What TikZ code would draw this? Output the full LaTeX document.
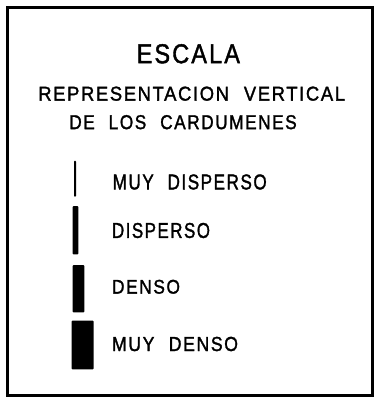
\documentclass[tikz,border=0pt]{standalone}
\usepackage{fontspec}
\usepackage{graphicx}
\setmainfont{Liberation Sans}[FakeBold=1.6, LetterSpace=9, WordSpace=2.2]
\newcommand{\fitbox}[3]{\resizebox{#1pt}{#2pt}{#3}}
\tikzset{
  lbl/.style={anchor=west, inner sep=0pt, outer sep=0pt},
  barbox/.style={rectangle, fill=black, draw=none, inner sep=0pt, outer sep=0pt, rounded corners=0.8pt},
  frame/.style={draw=black, line width=2.4pt}
}
\begin{document}
\begin{tikzpicture}[x=1pt, y=-1pt]
\useasboundingbox (0,0) rectangle (374,399);
\fill[white] (0,0) rectangle (374,399);
\draw[frame] (7.5,7.5) rectangle (372.3,395.5);
\node[lbl] (title) at (136.7,53.8) {\fitbox{103.3}{19}{ESCALA}};
\node[lbl] (sub1) at (38.3,93.7) {\fitbox{306.7}{14}{REPRESENTACION VERTICAL}};
\node[lbl] (sub2) at (69.3,122.2) {\fitbox{227.4}{14}{DE LOS CARDUMENES}};
\node[barbox, minimum width=2pt, minimum height=36pt] (bar1) at (75,178.7) {};
\node[barbox, minimum width=5.6pt, minimum height=48.3pt] (bar2) at (75.5,230.2) {};
\node[barbox, minimum width=11.6pt, minimum height=47.3pt] (bar3) at (78.5,288.7) {};
\node[barbox, minimum width=22pt, minimum height=48.6pt] (bar4) at (82.7,345) {};
\node[lbl] (t1) at (112.7,182) {\fitbox{154}{15}{MUY DISPERSO}};
\node[lbl] (t2) at (112,230.5) {\fitbox{98}{15}{DISPERSO}};
\node[lbl] (t3) at (112,286.8) {\fitbox{68}{13.8}{DENSO}};
\node[lbl] (t4) at (112,344) {\fitbox{126}{14.2}{MUY DENSO}};
\end{tikzpicture}
\end{document}
